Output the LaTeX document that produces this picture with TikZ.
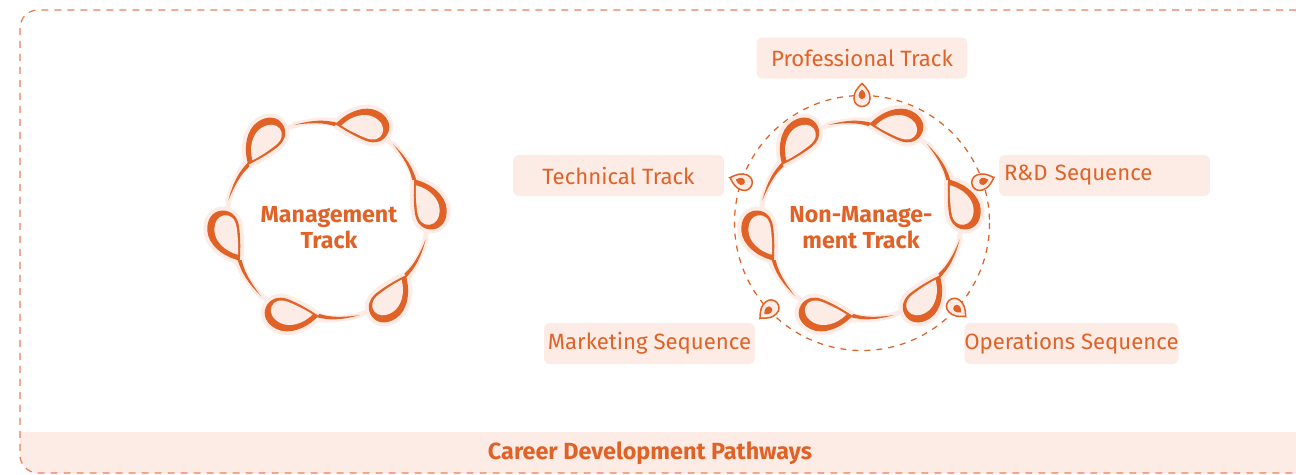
\documentclass[tikz,border=0pt]{standalone}
\usepackage{fontspec}
\setmainfont{Fira Sans}
\usetikzlibrary{positioning}

\definecolor{accent}{RGB}{224,98,38}
\definecolor{peach}{RGB}{253,236,229}
\definecolor{framec}{RGB}{231,128,86}

\tikzset{
  tagbox/.style={fill=peach, rounded corners=0.12cm, minimum width=4.22cm,
    minimum height=0.82cm, inner sep=0pt, text=accent,
    font=\fontsize{12.6}{15}\selectfont},
  lefttag/.style={tagbox, text width=4.02cm, align=left, inner xsep=0.1cm},
  hubtext/.style={text=accent, align=center,
    font=\bfseries\fontsize{13.2}{14.7}\selectfont},
  ringband/.style={draw=peach, line width=0.1cm},
  framedash/.style={draw=framec, line width=0.025cm, dash pattern=on 0.14cm off 0.12cm},
  orbitdash/.style={draw=accent, line width=0.025cm, dash pattern=on 0.12cm off 0.12cm},
}

% paisley drop, head sitting on the ring (radius 100) at angle 0
\newcommand{\droppath}{(92,28) .. controls (108,22) and (121,8) .. (120,-6)
  .. controls (119,-18) and (112,-24) .. (104,-24)
  .. controls (95,-24) and (88,-17) .. (88,-6)
  .. controls (88,6) and (90,18) .. cycle}
\newcommand{\holepath}{(93,22) .. controls (105,17) and (114,6) .. (113,-5)
  .. controls (112,-14) and (107,-19) .. (101,-19)
  .. controls (95,-19) and (90.5,-14) .. (90.5,-5)
  .. controls (90.5,5) and (91.5,15) .. cycle}
\newcommand{\tailpath}{(94,27) .. controls (92,40) and (88,50) .. (76,66)
  .. controls (85,50) and (89,40) .. (90,28) -- cycle}
\newcommand{\paisley}{%
  \filldraw[peach, line width=0.16cm, line join=round] \droppath;
  \draw[peach, line width=0.12cm, line cap=round] (92,28) .. controls (90,40) and (87,50) .. (76,66);
  \fill[accent] \droppath;
  \fill[peach] \holepath;
  \fill[accent] \tailpath;
}

% small pin on the orbit, tip pointing outward
\newcommand{\pin}{%
  \filldraw[draw=accent, fill=peach, line width=0.03cm]
    (12,0) .. controls (6,6) and (3,8) .. (-3,8) .. controls (-8,8) and (-11,4) .. (-11,0)
    .. controls (-11,-4) and (-8,-8) .. (-3,-8) .. controls (3,-8) and (6,-6) .. cycle;
  \fill[accent] (6,0) .. controls (3,3) and (2,3.5) .. (0,3.5)
    .. controls (-2,3.5) and (-3.5,2) .. (-3.5,0) .. controls (-3.5,-2) and (-2,-3.5) .. (0,-3.5)
    .. controls (2,-3.5) and (3,-3) .. cycle;
}

\begin{document}
\begin{tikzpicture}[x=0.02cm,y=-0.02cm]
  \useasboundingbox (0,0) rectangle (1296,474);

  % outer frame and bottom band
  \begin{scope}
    \clip[rounded corners=0.36cm] (20,10) rectangle (1340,473);
    \fill[peach] (20,432) rectangle (1340,473);
  \end{scope}
  \draw[framedash, rounded corners=0.36cm] (20,10) rectangle (1340,473);
  \node[hubtext, font=\bfseries\fontsize{13.3}{15}\selectfont] (caption) at (650,453) {Career Development Pathways};

  % left ring
  \coordinate (L) at (327,220);
  \begin{scope}[shift={(L)}, y=0.02cm]
    \draw[ringband] (0,0) circle (100);
    \foreach \a in {8,68,...,308} {
      \begin{scope}[rotate=\a] \paisley \end{scope}
    }
  \end{scope}
  \node[hubtext] (mgmt) at (329,228) {Management\\Track};

  % right ring with its orbit
  \coordinate (R) at (861,220);
  \coordinate (O) at (862,223);
  \draw[orbitdash] (O) circle (127.5);
  \begin{scope}[shift={(R)}, y=0.02cm]
    \draw[ringband] (0,0) circle (100);
    \foreach \a in {8,68,...,308} {
      \begin{scope}[rotate=\a] \paisley \end{scope}
    }
  \end{scope}
  \node[hubtext] (nonmgmt) at (861,228) {Non-Manage-\\ment Track};

  \foreach \a in {90,161,19,223,318} {
    \begin{scope}[shift={(O)}, y=0.02cm, rotate=\a, shift={(127.5,0)}] \pin \end{scope}
  }

  % track labels
  \node[tagbox] (prof) at (862,58) {Professional Track};
  \node[tagbox] (tech) at (618.5,175.5) {Technical Track};
  \node[lefttag] (rnd) at (1104.5,175.5) {R\&D Sequence};
  \node[tagbox] (mkt) at (649.5,343.5) {Marketing Sequence};
  \node[tagbox] (ops) at (1071.5,343.5) {Operations Sequence};
\end{tikzpicture}
\end{document}
